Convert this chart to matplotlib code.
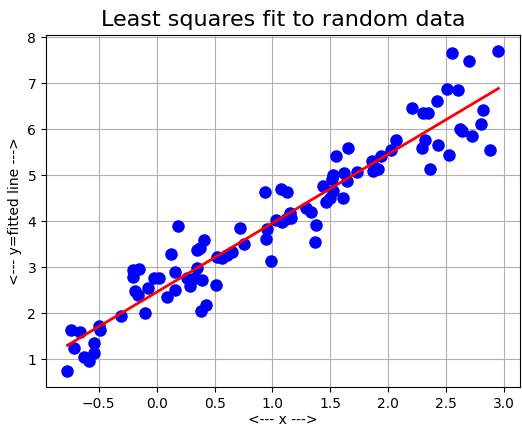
import numpy as np
import matplotlib
matplotlib.use("Agg")
import matplotlib.pyplot as plt

# data points
x = np.array([
    -0.77, -0.736, -0.66, -0.71, -0.63, -0.58, -0.545, -0.545, -0.50, -0.49,
    -0.306, -0.10, -0.19, -0.16, -0.206, -0.155, -0.206, -0.077, -0.02, 0.02,
    0.088, 0.16, 0.155, 0.123, 0.18, 0.26, 0.29, 0.33, 0.35, 0.395,
    0.35, 0.37, 0.41, 0.38, 0.43, 0.51, 0.52, 0.56, 0.61, 0.65,
    0.72, 0.753,
    0.933, 0.94, 0.955, 0.99, 1.03, 1.076, 1.08, 1.12, 1.127, 1.155,
    1.16, 1.29, 1.333, 1.375, 1.37,
    1.433, 1.46, 1.50, 1.52, 1.51, 1.525, 1.55, 1.656, 1.62, 1.64,
    1.61, 1.73, 1.86, 1.87, 1.91, 1.94, 2.02, 2.07,
    2.206, 2.30, 2.343, 2.32, 2.29, 2.426, 2.363, 2.42, 2.506, 2.60,
    2.52, 2.62, 2.64, 2.72, 2.80, 2.82, 2.88, 2.552, 2.70, 2.95,
])
y = np.array([
    0.75, 1.65, 1.59, 1.25, 1.05, 0.96, 1.35, 1.15, 1.73, 1.64,
    1.95, 2.00, 2.48, 2.41, 2.95, 2.97, 2.80, 2.55, 2.77, 2.78,
    2.36, 2.50, 2.91, 3.30, 3.90, 2.77, 2.59, 2.78, 2.98, 2.73,
    3.37, 3.42, 3.59, 2.05, 2.19, 2.61, 3.22, 3.21, 3.28, 3.33,
    3.85, 3.50,
    4.64, 3.63, 3.84, 3.15, 4.03, 4.70, 3.99, 4.05, 4.65, 4.18,
    4.08, 4.29, 4.21, 3.93, 3.56,
    4.77, 4.42, 4.52, 4.66, 4.92, 5.02, 5.42, 5.60, 5.06, 4.89,
    4.50, 5.07, 5.31, 5.09, 5.14, 5.43, 5.55, 5.78,
    6.46, 6.35, 6.35, 5.78, 5.60, 5.67, 5.15, 6.63, 6.89, 6.86,
    5.45, 6.02, 5.97, 5.85, 6.13, 6.42, 5.56, 7.66, 7.48, 7.71,
])

# least squares fit
m, c = np.polyfit(x, y, 1)
xs = np.sort(x)

fig = plt.figure(figsize=(5.22, 4.30), dpi=100)
ax = fig.add_axes([0.088, 0.100, 0.908, 0.819])

ax.plot(x, y, 'o', color='blue', markersize=8)
ax.plot(xs, m * xs + c, color='red', linewidth=2)

ax.set_title("Least squares fit to random data", fontsize=16)
ax.set_xlabel("<--- x --->", labelpad=2)
ax.set_ylabel("<--- y=fitted line --->")
ax.grid(True)

fig.savefig("out.png", dpi=100)
